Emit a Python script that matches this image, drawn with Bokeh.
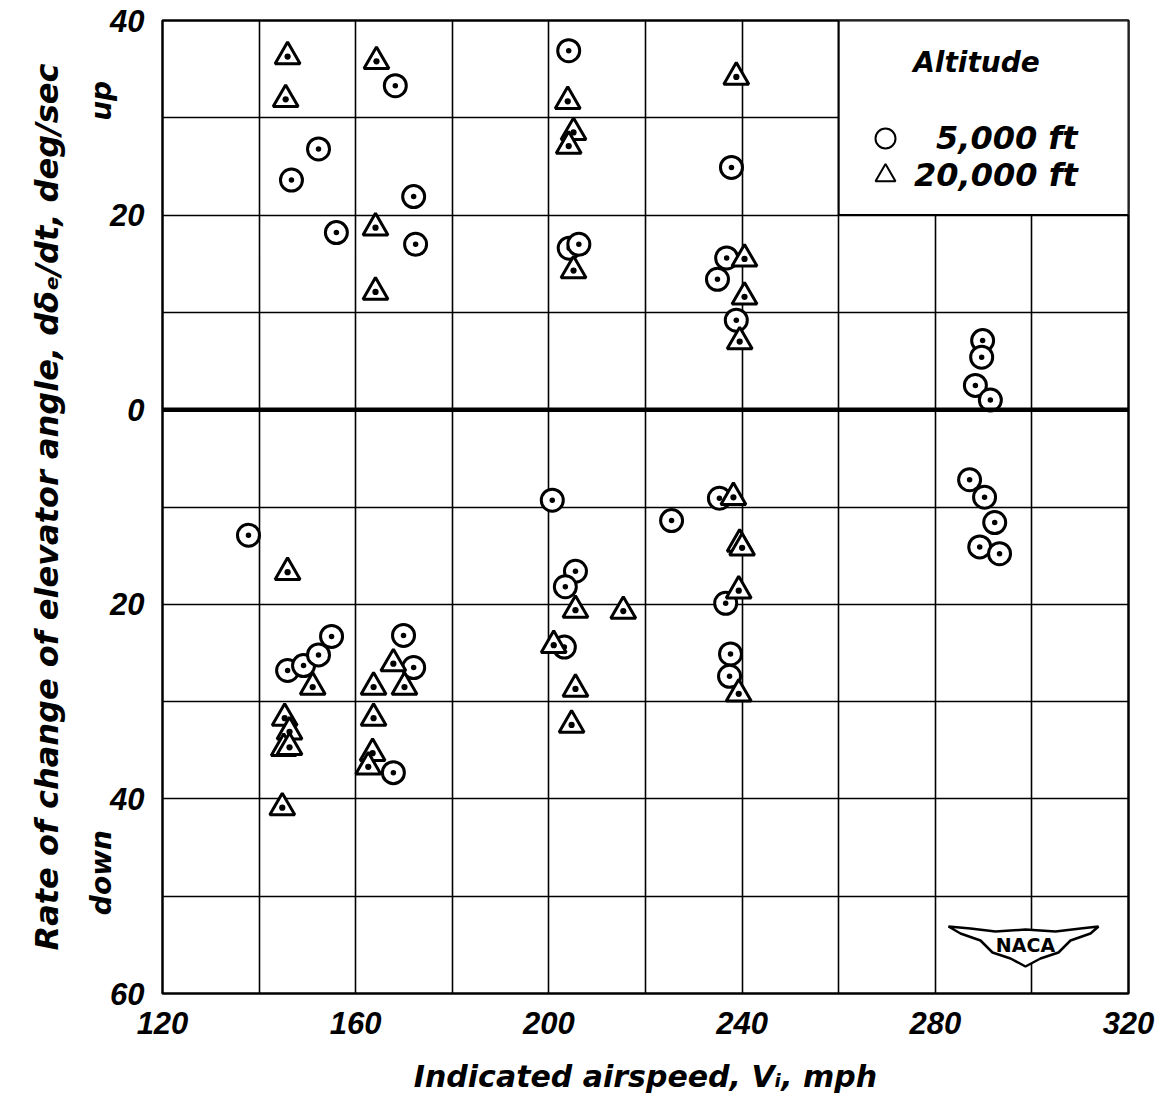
import math
from bokeh.plotting import figure
from bokeh.models import (Legend, LegendItem, Label, BoxAnnotation, Span,
                          FixedTicker, LinearAxis)
from bokeh.embed import file_html
from bokeh.resources import INLINE

# ---- data ----
speed_5k = [168.2, 152.3, 146.7, 156.0, 172.0, 172.4, 204.1, 204.2, 206.2,
            237.8, 234.9, 236.8, 238.8, 289.8, 289.6, 288.3, 291.4,
            137.8, 145.9, 149.2, 152.3, 155.0, 169.9, 172.0, 167.8,
            200.7, 225.4, 235.3, 205.5, 203.4, 236.6, 203.2, 237.6, 237.4,
            287.1, 290.2, 292.3, 289.2, 293.3]
rate_5k = [33.3, 26.8, 23.6, 18.2, 21.9, 17.0, 36.9, 16.6, 17.0,
           24.9, 13.4, 15.6, 9.2, 7.1, 5.4, 2.5, 1.0,
           -12.9, -26.8, -26.3, -25.2, -23.3, -23.2, -26.5, -37.3,
           -9.3, -11.4, -9.1, -16.6, -18.2, -19.9, -24.4, -25.1, -27.4,
           -7.2, -9.0, -11.6, -14.1, -14.8]

speed_20k = [145.9, 145.5, 164.3, 164.1, 164.1, 203.9, 205.1, 204.1, 205.1,
             238.8, 240.5, 240.5, 239.5,
             145.9, 151.1, 145.3, 146.3, 145.1, 146.3, 144.8, 163.7, 167.8,
             170.1, 163.7, 163.5, 162.6,
             238.2, 239.5, 240.0, 239.3, 205.5, 215.4, 201.0, 205.5, 239.3,
             204.7]
rate_20k = [36.3, 31.9, 35.8, 18.7, 12.1, 31.7, 28.5, 27.1, 14.3,
            34.2, 15.5, 11.6, 7.0,
            -16.7, -28.5, -31.7, -33.1, -34.8, -34.7, -40.9, -28.5, -26.1,
            -28.5, -31.7, -35.3, -36.7,
            -9.0, -13.8, -14.2, -18.6, -20.6, -20.7, -24.2, -28.7, -29.2,
            -32.4]

x_ticks = [120, 160, 200, 240, 280, 320]
y_ticks = [-60, -40, -20, 0, 20, 40]
y_tick_labels = ["60", "40", "20", "0", "20", "40"]
direction_pos = [33.8, -43.2]
direction_labels = ["up", "down"]
series_labels = ["5,000 ft", "20,000 ft"]

TICKFONT = "Liberation Sans"
FONT = "DejaVu Sans"
STYLE = "bold italic"

FL, FT, FW, FH = 162, 20, 966, 973   # frame placement in canvas pixels

p = figure(frame_width=FW, frame_height=FH, x_range=(120, 320),
           y_range=(-60, 40), output_backend="svg", toolbar_location=None,
           min_border_left=FL, min_border_top=FT, min_border_right=30,
           min_border_bottom=105, background_fill_color="white",
           border_fill_color="white")

p.outline_line_color = "black"
p.outline_line_width = 2.5


def px2x(px):
    return 120 + (px - FL) * 200.0 / FW


def py2y(py):
    return 40 - (py - FT) * 100.0 / FH


# grids
p.xgrid.ticker = FixedTicker(ticks=list(range(120, 321, 20)))
p.ygrid.ticker = FixedTicker(ticks=list(range(-60, 41, 10)))
for g in (p.xgrid, p.ygrid):
    g.grid_line_color = "black"
    g.grid_line_width = 1.6
    g.grid_line_alpha = 1.0

# axes
p.xaxis.ticker = FixedTicker(ticks=x_ticks)
p.yaxis.ticker = FixedTicker(ticks=y_ticks)
p.yaxis.major_label_overrides = {t: l for t, l in zip(y_ticks, y_tick_labels)}


def style_axis(ax, size="31px", font=TICKFONT):
    ax.axis_line_color = None
    ax.major_tick_line_color = None
    ax.minor_tick_line_color = None
    ax.major_label_text_font = font
    ax.major_label_text_font_style = STYLE
    ax.major_label_text_font_size = size
    ax.major_label_text_color = "black"
    ax.major_label_standoff = 12
    ax.axis_label_text_font = FONT
    ax.axis_label_text_font_style = STYLE
    ax.axis_label_text_color = "black"


for ax in (p.xaxis, p.yaxis):
    style_axis(ax)
p.xaxis.axis_label_text_font_size = "30px"
p.xaxis.axis_label_standoff = 22
p.xaxis.axis_label = "Indicated airspeed, V\u1d62, mph"

# second left axis: "up" / "down" notes and the axis title
side = LinearAxis(ticker=FixedTicker(ticks=direction_pos),
                  major_label_overrides={t: l for t, l in
                                         zip(direction_pos, direction_labels)},
                  major_label_orientation=math.pi / 2)
style_axis(side, size="28px", font=FONT)
side.major_label_standoff = 0
side.axis_label = "Rate of change of elevator angle, d\u03b4\u2091/dt, deg/sec"
side.axis_label_text_font_size = "32px"
side.axis_label_standoff = 0
p.add_layout(side, "left")

# zero line
p.add_layout(Span(location=0, dimension="width", line_color="black",
                  line_width=4.5))

# data
p.scatter(speed_5k, rate_5k, marker="circle_dot", size=22,
          fill_color="white", line_color="black", line_width=3)
p.scatter(speed_20k, rate_20k, marker="triangle_dot", size=25,
          fill_color="white", line_color="black", line_width=3)

# legend box
p.add_layout(BoxAnnotation(left=260, right=320, bottom=20, top=40,
                           fill_color="white", fill_alpha=1.0,
                           line_color="black", line_width=2, line_alpha=1.0))

nan = float("nan")
r1 = p.scatter(x=[nan], y=[nan], marker="circle", size=20, fill_color="white",
               line_color="black", line_width=2)
r2 = p.scatter(x=[nan], y=[nan], marker="triangle", size=22,
               fill_color="white", line_color="black", line_width=2)

legend_style = dict(label_text_font=FONT, label_text_font_style=STYLE,
                    label_text_font_size="32px", label_text_color="black",
                    background_fill_alpha=0, border_line_color=None,
                    glyph_width=50, glyph_height=50, spacing=0, padding=0,
                    margin=0)
p.add_layout(Legend(items=[LegendItem(label=series_labels[0], renderers=[r1])],
                    location=(698, 830), label_standoff=26, **legend_style))
p.add_layout(Legend(items=[LegendItem(label=series_labels[1], renderers=[r2])],
                    location=(698, 793), label_standoff=4, **legend_style))

p.add_layout(Label(x=px2x(976), y=py2y(62), text="Altitude", text_font=FONT,
                   text_font_style=STYLE, text_font_size="28px",
                   text_color="black", text_align="center",
                   text_baseline="middle"))

# NACA emblem (decoration)
wing_px = [(948, 926), (970, 928), (995, 931), (1025, 929), (1055, 931),
           (1080, 928), (1098, 926), (1090, 933), (1070, 940), (1058, 952),
           (1040, 958), (1025, 966), (1010, 958), (992, 952), (980, 940),
           (960, 933)]
p.patch([px2x(a) for a, b in wing_px], [py2y(b) for a, b in wing_px],
        fill_color="white", line_color="black", line_width=2.5)
p.add_layout(Label(x=px2x(1025), y=py2y(944), text="NACA", text_font=FONT,
                   text_font_style="bold", text_font_size="19px",
                   text_color="black", text_align="center",
                   text_baseline="middle"))

open("out.html", "w").write(file_html(p, INLINE))
